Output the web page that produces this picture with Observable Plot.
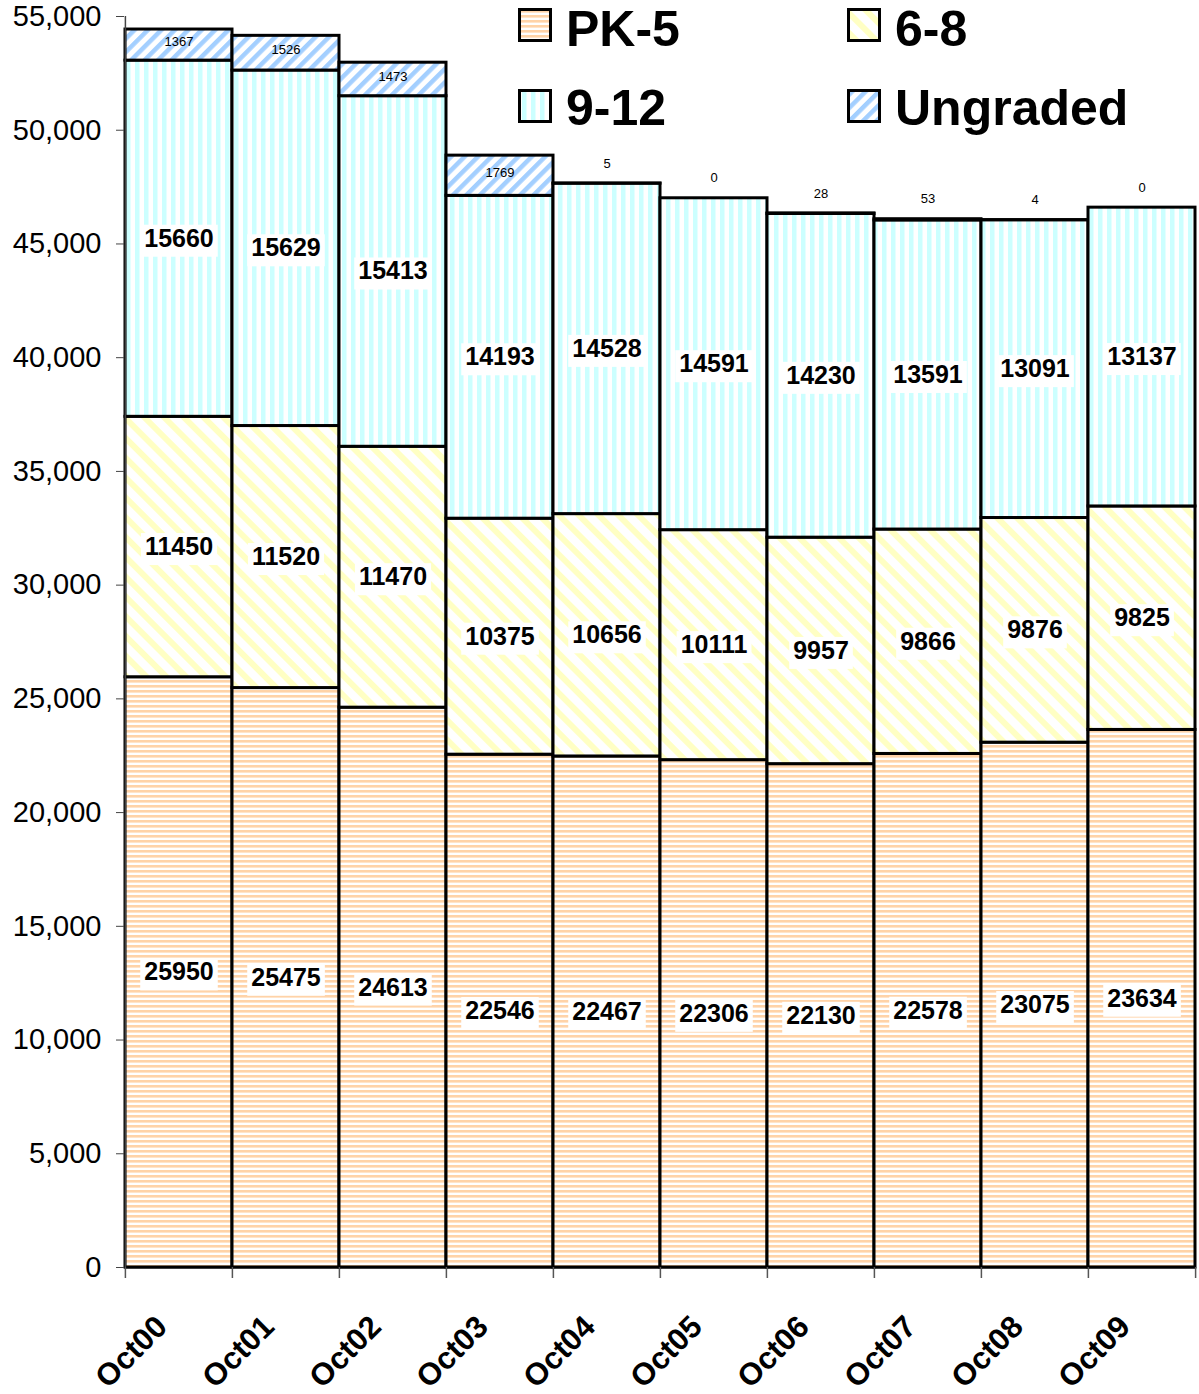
<!DOCTYPE html>
<html><head><meta charset="utf-8">
<script src="https://cdn.jsdelivr.net/npm/d3@7"></script>
<script src="https://cdn.jsdelivr.net/npm/@observablehq/plot@0.6"></script>
<style>
body{margin:0;background:#fff;font-family:"Liberation Sans",Arial,sans-serif}
#wrap{position:relative;width:1199px;height:1394px}
</style>
</head><body><div id="wrap"></div>
<script>
const years = ["Oct00","Oct01","Oct02","Oct03","Oct04","Oct05","Oct06","Oct07","Oct08","Oct09"];
const pk5 = [25950,25475,24613,22546,22467,22306,22130,22578,23075,23634];
const g68 = [11450,11520,11470,10375,10656,10111,9957,9866,9876,9825];
const g912 = [15660,15629,15413,14193,14528,14591,14230,13591,13091,13137];
const ungraded = [1367,1526,1473,1769,5,0,28,53,4,0];
const series = ["PK-5","6-8","9-12","Ungraded"];
const patternIds = ["pPK5","p68","p912","pUng"];
const yTicks = d3.range(0, 55001, 5000);

const valuesBySeries = [pk5, g68, g912, ungraded];
const rows = [];
years.forEach((yr, i) => {
  series.forEach((s, j) => rows.push({year: yr, grade: s, value: valuesBySeries[j][i]}));
});
const gradedRows = rows.filter(r => r.grade !== "Ungraded");
const ungRows = years.map((yr, i) => ({
  year: yr, value: ungraded[i],
  base: pk5[i] + g68[i] + g912[i]
}));
const ungBig = ungRows.filter(r => r.value >= 300);
const ungSmall = ungRows.filter(r => r.value < 300);

const bw = (1196 - 124) / years.length;
const font = "Liberation Sans, Arial, sans-serif";

const chart = Plot.plot({
  width: 1199,
  height: 1394,
  marginLeft: 124,
  marginRight: 3,
  marginTop: 16,
  marginBottom: 127,
  style: {fontFamily: font, background: "#fff", color: "#000"},
  x: {domain: years, padding: 0, label: null},
  y: {domain: [0, 55000], label: null},
  color: {type: "ordinal", domain: series, range: patternIds.map(id => `url(#${id})`)},
  marks: [
    Plot.barY(rows, Plot.stackY({x: "year", y: "value", fill: "grade", stroke: "#000", strokeWidth: 3})),
    Plot.ruleY([0], {stroke: "#000", strokeWidth: 2}),
    Plot.ruleX([years[0]], {dx: -bw / 2, y1: 0, y2: 55000, stroke: "#444", strokeWidth: 1.5}),
    Plot.axisY({ticks: yTicks, tickFormat: d3.format(","), tickSize: 8, tickPadding: 15, fontSize: 29, label: null, stroke: "#444"}),
    Plot.axisX({ticks: years, tickSize: 11, text: null, dx: -bw / 2, stroke: "#555", strokeWidth: 1.5}),
    Plot.axisX({ticks: [years[years.length - 1]], tickSize: 11, text: null, dx: bw / 2, stroke: "#555", strokeWidth: 1.5}),
    Plot.axisX({ticks: years, tickSize: 0, tickPadding: 54, tickRotate: -45, fontSize: 31, fontWeight: "bold", dx: -17, label: null}),
    Plot.text(gradedRows, Plot.stackY({x: "year", y: "value", text: d => String(d.value), fontSize: 25, fontWeight: "bold", fill: "#000", ariaLabel: "biglabels"})),
    Plot.text(ungBig, {x: "year", y: d => d.base + d.value / 2, text: d => String(d.value), fontSize: 13, fill: "#000", dy: -3}),
    Plot.text(ungSmall, {x: "year", y: d => d.base + d.value, text: d => String(d.value), fontSize: 13, fill: "#000", dy: -20})
  ]
});

document.getElementById("wrap").appendChild(chart);
const svg = d3.select(chart);

// patterns
const defs = svg.insert("defs", ":first-child");
function stripes(id, size, stripeW, color, transform, vertical) {
  const p = defs.append("pattern").attr("id", id).attr("patternUnits", "userSpaceOnUse")
    .attr("width", size).attr("height", size);
  if (transform) p.attr("patternTransform", transform);
  p.append("rect").attr("width", size).attr("height", size).attr("fill", "#fff");
  if (vertical) p.append("rect").attr("x", 0).attr("y", 0).attr("width", stripeW).attr("height", size).attr("fill", color);
  else p.append("rect").attr("x", 0).attr("y", 0).attr("width", size).attr("height", stripeW).attr("fill", color);
}
stripes("pPK5", 5, 2.6, "#FFD3A8", null, false);
stripes("p68", 14, 6, "#FFFFC4", "rotate(-45)", true);
stripes("p912", 9, 4.5, "#CCFFFF", null, true);
stripes("pUng", 9.5, 4.5, "#A3CFFF", "rotate(45)", true);

// white boxes behind bold value labels
const labelSet = new Set(gradedRows.map(r => String(r.value)));
const bigTexts = [];
chart.querySelectorAll("text").forEach(t => {
  const cs = window.getComputedStyle(t);
  if (labelSet.has(t.textContent) && parseFloat(cs.fontSize) === 25) bigTexts.push(t);
});
bigTexts.forEach(t => {
  const b = t.getBBox();
  const r = document.createElementNS("http://www.w3.org/2000/svg", "rect");
  r.setAttribute("x", b.x - 4);
  r.setAttribute("y", b.y + 1);
  r.setAttribute("width", b.width + 8);
  r.setAttribute("height", b.height + 4);
  r.setAttribute("fill", "#fff");
  r.setAttribute("stroke", "none");
  const tr = t.getAttribute("transform");
  if (tr) r.setAttribute("transform", tr);
  t.parentNode.insertBefore(r, t);
});

// legend
const legend = svg.append("g").attr("font-family", font).attr("font-weight", "bold")
  .attr("font-size", 50).attr("text-anchor", "start");
const legendItems = [
  {name: "PK-5", x: 518, y: 8, base: 46},
  {name: "6-8", x: 847, y: 8, base: 46},
  {name: "9-12", x: 518, y: 89, base: 125},
  {name: "Ungraded", x: 847, y: 89, base: 125}
];
legendItems.forEach(it => {
  legend.append("rect").attr("x", it.x + 1.5).attr("y", it.y + 1.5).attr("width", 31).attr("height", 31)
    .attr("fill", `url(#${patternIds[series.indexOf(it.name)]})`).attr("stroke", "#000").attr("stroke-width", 3);
  legend.append("text").attr("x", it.x + 48).attr("y", it.base).attr("text-anchor", "start").text(it.name);
});
</script>
</body></html>
